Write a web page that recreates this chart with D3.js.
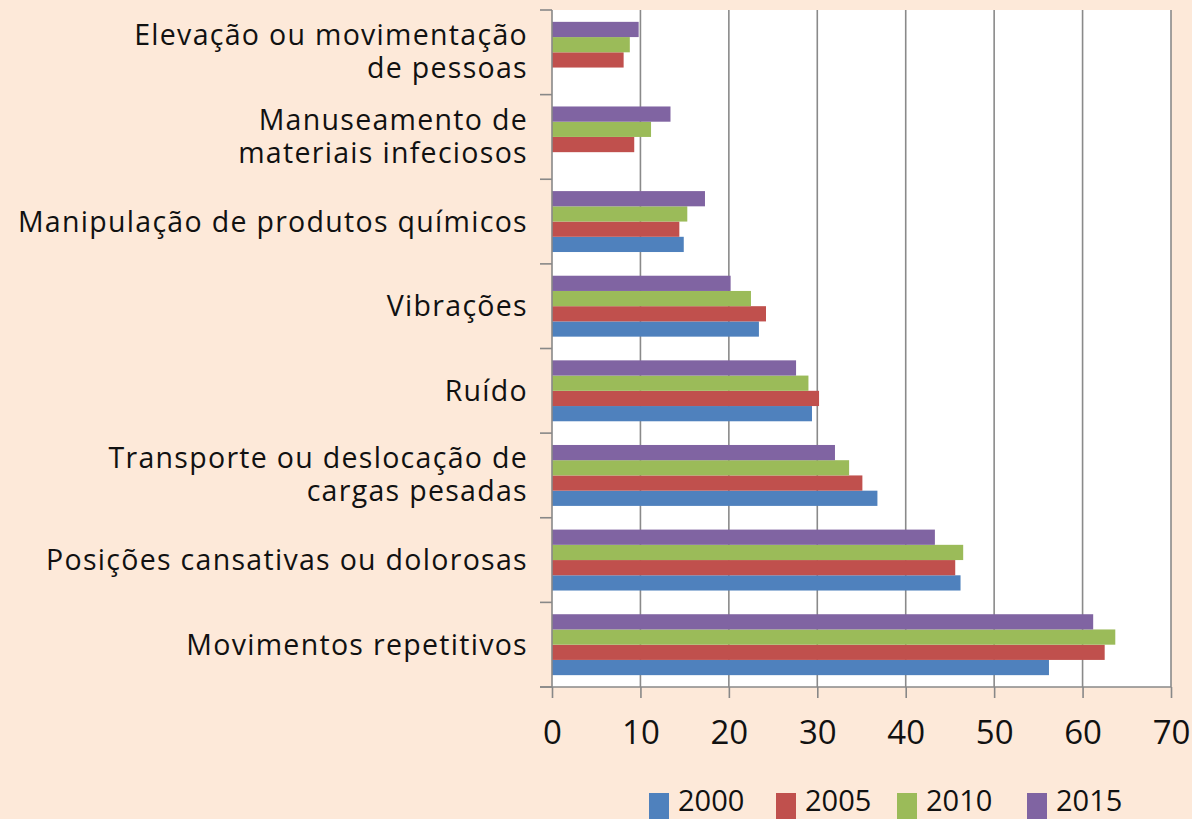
<!DOCTYPE html>
<html>
<head>
<meta charset="utf-8">
<script src="https://cdn.jsdelivr.net/npm/d3@7"></script>
<style>
  body { margin: 0; background: #fde9d9; }
  text { font-family: "Open Sans", Lato, sans-serif; fill: #111; }
</style>
</head>
<body>
<script>
// categories top to bottom
const categories = [
  ["Elevação ou movimentação", "de pessoas"],
  ["Manuseamento de", "materiais infeciosos"],
  ["Manipulação de produtos químicos"],
  ["Vibrações"],
  ["Ruído"],
  ["Transporte ou deslocação de", "cargas pesadas"],
  ["Posições cansativas ou dolorosas"],
  ["Movimentos repetitivos"]
]
const years = ["2000", "2005", "2010", "2015"]
const colors = ["#4f81bd", "#c0504d", "#9bbb59", "#8064a2"]

// values per year, same order as categories (null = no bar)
const v2000 = [null, null, 14.9, 23.4, 29.4, 36.8, 46.2, 56.2]
const v2005 = [8.1, 9.3, 14.4, 24.2, 30.2, 35.1, 45.6, 62.5]
const v2010 = [8.8, 11.2, 15.3, 22.5, 29.0, 33.6, 46.5, 63.7]
const v2015 = [9.8, 13.4, 17.3, 20.2, 27.6, 32.0, 43.3, 61.2]
const series = [v2000, v2005, v2010, v2015]
const xTicks = [0, 10, 20, 30, 40, 50, 60, 70]

const W = 1192, H = 819
const plot = {left: 552, right: 1171, top: 10, bottom: 687}

const svg = d3.select('body').append('svg')
    .attr('width', W)
    .attr('height', H)

svg.append('rect')
    .attr('width', W).attr('height', H)
    .attr('fill', '#fde9d9')

svg.append('rect')
    .attr('x', plot.left).attr('y', plot.top)
    .attr('width', plot.right - plot.left)
    .attr('height', plot.bottom - plot.top)
    .attr('fill', '#fff')

const xScale = d3.scaleLinear()
    .domain([0, 70])
    .range([plot.left, plot.right])

const yScale = d3.scaleBand()
    .domain(d3.range(categories.length))
    .range([plot.top, plot.bottom])
    .paddingInner(0.28)
    .paddingOuter(0.14)

// bars inside a group: 2015 at top, 2000 at bottom
const inner = d3.scaleBand()
    .domain([3, 2, 1, 0])
    .range([0, yScale.bandwidth()])

// gridlines
svg.append('g').selectAll('line')
    .data(xTicks.slice(1))
    .join('line')
      .attr('x1', d => xScale(d)).attr('x2', d => xScale(d))
      .attr('y1', plot.top).attr('y2', plot.bottom)
      .attr('stroke', '#8a8a8a')
      .attr('stroke-width', 1.6)

// bars
series.forEach((vals, s) => {
  svg.append('g').selectAll('rect')
      .data(vals.map((v, i) => ({v, i})).filter(d => d.v != null))
      .join('rect')
        .attr('x', xScale(0))
        .attr('y', d => yScale(d.i) + inner(s))
        .attr('width', d => xScale(d.v) - xScale(0))
        .attr('height', inner.bandwidth())
        .attr('fill', colors[s])
})

// bottom axis
const xAxis = svg.append('g')
    .attr('transform', 'translate(0,' + plot.bottom + ')')
    .call(d3.axisBottom(xScale).tickValues(xTicks).tickSize(11).tickPadding(23).tickSizeOuter(0))
xAxis.select('.domain').attr('stroke', '#888').attr('stroke-width', 1.6)
    .attr('d', 'M' + (plot.left - 12) + ',0H' + plot.right)
xAxis.selectAll('.tick line').attr('stroke', '#888').attr('stroke-width', 1.6)
xAxis.selectAll('.tick text')
    .attr('font-size', '33px')
    .attr('font-family', '"Open Sans", sans-serif')
    .attr('fill', '#111')

// left axis with ticks at band boundaries
const step = (plot.bottom - plot.top) / categories.length
const bounds = d3.range(categories.length + 1).map(i => plot.top + i * step)
svg.append('line')
    .attr('x1', plot.left).attr('x2', plot.left)
    .attr('y1', plot.top).attr('y2', plot.bottom)
    .attr('stroke', '#888').attr('stroke-width', 1.6)
svg.append('g').selectAll('line')
    .data(bounds)
    .join('line')
      .attr('x1', plot.left - 12).attr('x2', plot.left)
      .attr('y1', d => d).attr('y2', d => d)
      .attr('stroke', '#888').attr('stroke-width', 1.6)

// category labels
const labels = svg.append('g').selectAll('text')
    .data(categories)
    .join('text')
      .attr('text-anchor', 'end')
      .attr('font-size', '28.5px')
      .attr('letter-spacing', '1.3px')
      .attr('y', (d, i) => plot.top + (i + 0.5) * step + (d.length > 1 ? -7 : 10))
labels.selectAll('tspan')
    .data(d => d)
    .join('tspan')
      .attr('x', 528)
      .attr('dy', (d, j) => j == 0 ? 0 : 33)
      .text(d => d)

// legend
const legend = svg.append('g')
const legX = [649, 776, 897, 1027]
years.forEach((y, i) => {
  legend.append('rect')
      .attr('x', legX[i]).attr('y', 793)
      .attr('width', 20).attr('height', 26)
      .attr('fill', colors[i])
  legend.append('text')
      .attr('x', legX[i] + 29).attr('y', 811)
      .attr('font-size', '29px')
      .text(y)
})
</script>
</body>
</html>
